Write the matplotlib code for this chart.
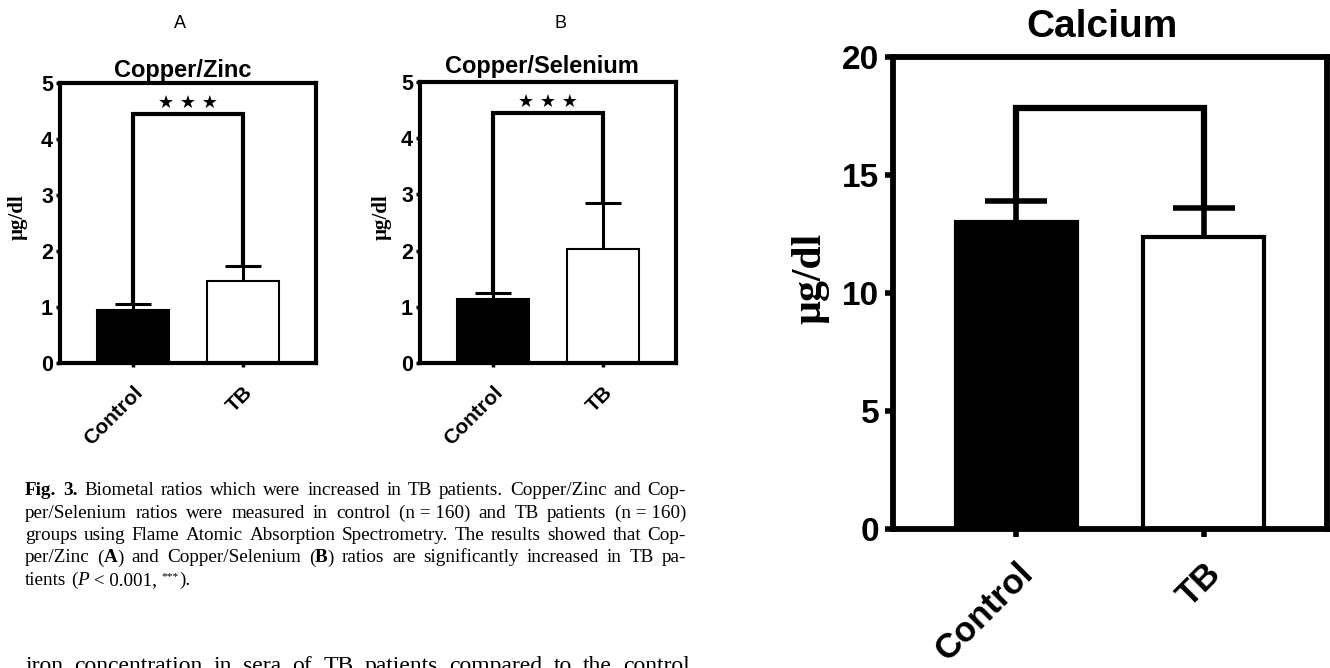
import re
import numpy as np
import matplotlib.pyplot as plt

W, H = 1330, 668
SANS = 'Liberation Sans'
SERIF = 'Liberation Serif'

# values (bar = mean, err = upper error bar)
groups = ['Control', 'TB']
cuzn_mean = [0.94, 1.46]
cuzn_err = [0.12, 0.27]
cuse_mean = [1.13, 2.02]
cuse_err = [0.12, 0.83]
ca_mean = [13.0, 12.37]
ca_err = [0.9, 1.23]
cuzn_bracket = 4.44
cuse_bracket = 4.44
ca_bracket = 17.84
small_yticks = [0, 1, 2, 3, 4, 5]
ca_yticks = [0, 5, 10, 15, 20]

caption_lines = [
    '[b]Fig.[/b] [b]3.[/b] Biometal ratios which were increased in TB patients. Copper/Zinc and Cop-',
    'per/Selenium ratios were measured in control (n\u00a0=\u00a0160) and TB patients (n\u00a0=\u00a0160)',
    'groups using Flame Atomic Absorption Spectrometry. The results showed that Cop-',
    'per/Zinc ([b]A[/b]) and Copper/Selenium ([b]B[/b]) ratios are significantly increased in TB pa-',
    'tients ([i]P[/i]\u00a0<\u00a00.001, [s]***[/s]).',
]
body_line = 'iron concentration in sera of TB patients compared to the control'

fig = plt.figure(figsize=(W / 100, H / 100), dpi=100)
fig.patch.set_facecolor('white')


def px_axes(l, t, r, b):
    return fig.add_axes([l / W, 1 - b / H, (r - l) / W, (b - t) / H])


def fx(x):
    return x / W


def fy(y):
    return 1 - y / H


def panel(ax, mean, err, bracket, ymax, yticks, st):
    x = np.arange(len(groups))
    mean = np.array(mean); err = np.array(err)
    tops = mean + err
    ax.bar(x, mean, width=0.65, color=['black', 'white'], edgecolor='black',
           linewidth=st['bar_lw'], zorder=2)
    ax.vlines(x, mean, tops, color='black', lw=st['err_lw'], zorder=3)
    ax.plot(x, tops, ls='none', marker='_', color='black',
            markersize=st['cap'], markeredgewidth=st['err_lw'], zorder=3)
    ax.plot([0, 0, 1, 1], [tops[0], bracket, bracket, tops[1]], color='black',
            lw=st['br_lw'], solid_joinstyle='miter', solid_capstyle='butt', zorder=3)
    ax.set_xlim(-0.66, 1.66)
    ax.set_ylim(0, ymax)
    ax.set_xticks(x)
    ax.set_yticks(yticks)
    ax.set_xticklabels(groups, rotation=45, ha='right', va='top', rotation_mode='anchor',
                       fontsize=st['xl'], fontweight='bold', family=SANS)
    ax.set_yticklabels([str(v) for v in yticks], fontsize=st['yl'], fontweight='bold', family=SANS)
    for s in ax.spines.values():
        s.set_linewidth(st['spine'])
    ax.tick_params(axis='both', direction='out', length=st['tick_len'], width=st['tick_w'])
    ax.tick_params(axis='x', pad=st['xpad'])
    ax.tick_params(axis='y', pad=st['ypad'])


small = dict(bar_lw=1.5, err_lw=2.2, cap=26, br_lw=3.0, xl=15, yl=15.5, spine=3.0,
             tick_len=3, tick_w=2.5, xpad=11, ypad=2)
big = dict(bar_lw=3.0, err_lw=4.0, cap=44, br_lw=4.5, xl=25, yl=24, spine=4.2,
           tick_len=6, tick_w=4, xpad=14, ypad=4)

axA = px_axes(60, 83, 316, 363)
panel(axA, cuzn_mean, cuzn_err, cuzn_bracket, 5, small_yticks, small)
axB = px_axes(420, 82, 676, 363)
panel(axB, cuse_mean, cuse_err, cuse_bracket, 5, small_yticks, small)
axC = px_axes(893, 57, 1327, 529)
panel(axC, ca_mean, ca_err, ca_bracket, 20, ca_yticks, big)

for ax, br, lx in ((axA, cuzn_bracket, -0.125), (axB, cuse_bracket, -0.11)):
    ax.annotate('\u2605 \u2605 \u2605', xy=(0.5, br), xytext=(0, 2), textcoords='offset points',
                ha='center', va='bottom', fontsize=13, family=['DejaVu Sans'])
    ax.set_ylabel('\u00b5g/dl', family=SERIF, fontweight='bold', fontsize=15)
    ax.yaxis.set_label_coords(lx, 0.52)
axC.set_ylabel('\u00b5g/dl', family=SERIF, fontweight='bold', fontsize=30)
axC.yaxis.set_label_coords(-0.147, 0.53)

fig.text(fx(180), fy(23), 'A', ha='center', va='center', fontsize=13, family=SANS)
fig.text(fx(560), fy(23), 'B', ha='center', va='center', fontsize=13, family=SANS)
fig.text(fx(183), fy(70), 'Copper/Zinc', ha='center', va='center', fontsize=17,
         fontweight='bold', family=SANS)
fig.text(fx(542), fy(67), 'Copper/Selenium', ha='center', va='center', fontsize=17,
         fontweight='bold', family=SANS)
fig.text(fx(1102), fy(27), 'Calcium', ha='center', va='center', fontsize=28,
         fontweight='bold', family=SANS)

# caption set as justified lines
renderer = fig.canvas.get_renderer()
TAG = re.compile(r'(\[b\].*?\[/b\]|\[i\].*?\[/i\]|\[s\].*?\[/s\])')


def word_runs(word):
    out = []
    for part in TAG.split(word):
        if not part:
            continue
        if part.startswith('[b]'):
            out.append((part[3:-4], 'bold'))
        elif part.startswith('[i]'):
            out.append((part[3:-4], 'italic'))
        elif part.startswith('[s]'):
            out.append((part[3:-4], 'sup'))
        else:
            out.append((part, 'normal'))
    return out


def run_kw(style, size):
    kw = dict(family=SERIF, fontsize=size)
    if style == 'bold':
        kw['fontweight'] = 'bold'
    elif style == 'italic':
        kw['fontstyle'] = 'italic'
    elif style == 'sup':
        kw['fontsize'] = size * 0.6
    return kw


def text_w(s, kw):
    t = fig.text(0, 0, s, **kw)
    w = t.get_window_extent(renderer).width
    t.remove()
    return w


def line_widths(line, size):
    words = [word_runs(w) for w in line.split(' ')]
    return words, [sum(text_w(s, run_kw(st, size)) for s, st in w) for w in words]


def set_line(line, x0, x1, y, size, justify=True):
    words, widths = line_widths(line, size)
    space = size * 0.25 * 100 / 72
    if justify and len(words) > 1:
        space = (x1 - x0 - sum(widths)) / (len(words) - 1)
    x = x0
    for w, ww in zip(words, widths):
        xx = x
        for s, st in w:
            kw = run_kw(st, size)
            dy = -size * 0.45 if st == 'sup' else 0
            fig.text(fx(xx), fy(y + dy), s, ha='left', va='baseline', **kw)
            xx += text_w(s, kw)
        x += ww + space


def fit_size(lines, width, lo=11.0, hi=17.0):
    # largest size whose justified spaces stay near a normal word space
    size = hi
    while size > lo:
        ok = True
        for line in lines:
            words, widths = line_widths(line, size)
            gap = (width - sum(widths)) / (len(words) - 1)
            if gap < size * 0.3 * 100 / 72:
                ok = False
                break
        if ok:
            return size
        size -= 0.25
    return lo


cap_x0, cap_x1 = 25, 686
cap_size = fit_size(caption_lines[:-1], cap_x1 - cap_x0)
cap_top, cap_step = 495, 22.5
for i, line in enumerate(caption_lines):
    set_line(line, cap_x0, cap_x1, cap_top + i * cap_step, cap_size,
             justify=i < len(caption_lines) - 1)
set_line(body_line, 25, 690, 672, 17)

fig.savefig('out.png', dpi=100, facecolor='white')
